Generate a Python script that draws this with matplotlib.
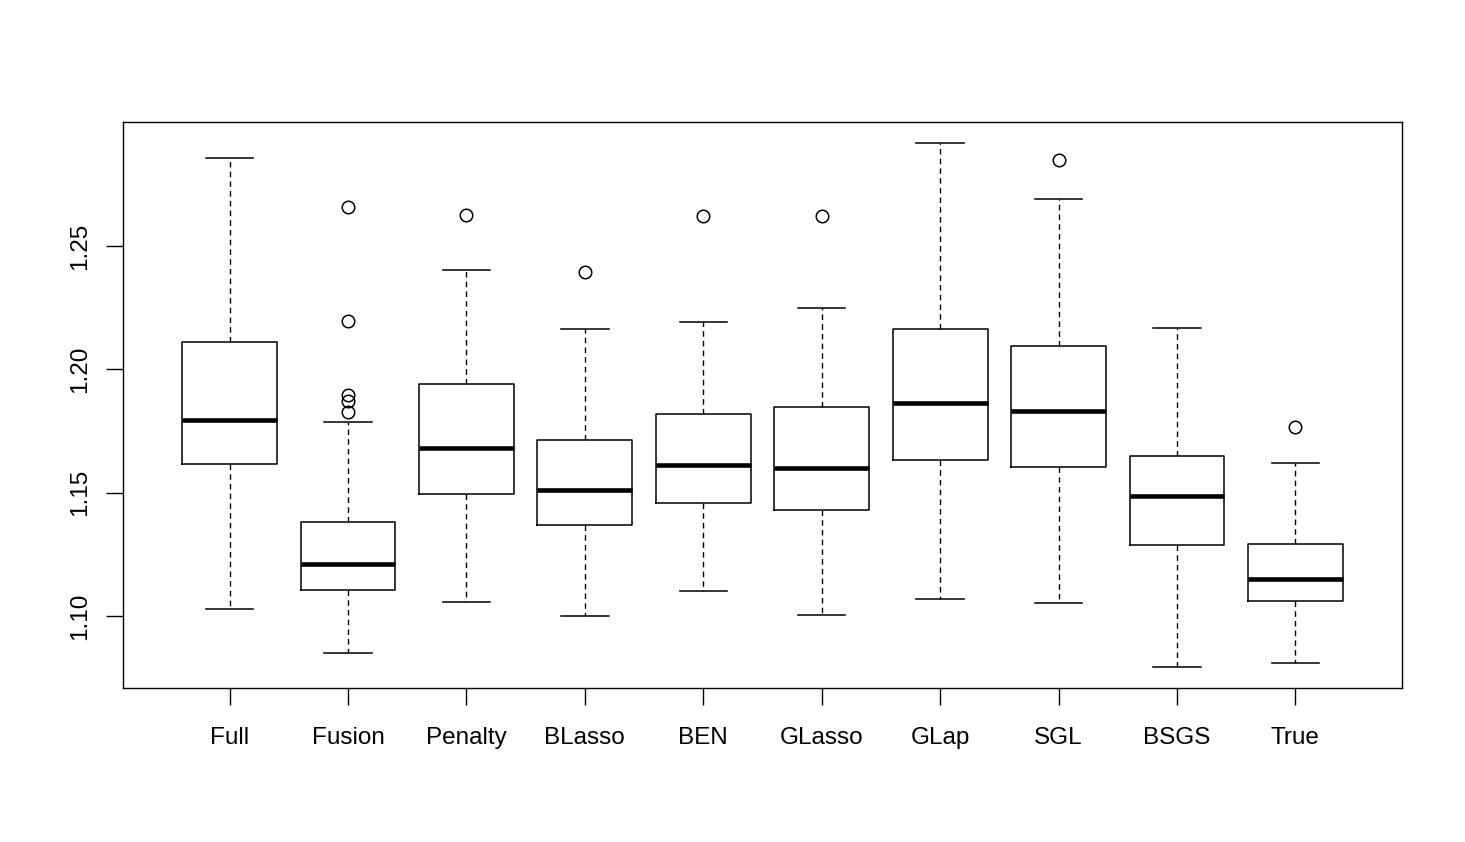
import matplotlib
matplotlib.use('Agg')
import matplotlib.pyplot as plt

plt.rcParams['font.family'] = ['Liberation Sans', 'DejaVu Sans']

methods = ['Full', 'Fusion', 'Penalty', 'BLasso', 'BEN', 'GLasso', 'GLap', 'SGL', 'BSGS', 'True']
whislo = [1.1028, 1.0850, 1.1057, 1.1000, 1.1101, 1.1004, 1.1069, 1.1053, 1.0793, 1.0809]
q1 = [1.1616, 1.1105, 1.1495, 1.1369, 1.1458, 1.1430, 1.1633, 1.1604, 1.1288, 1.1061]
med = [1.1795, 1.1211, 1.1681, 1.1511, 1.1612, 1.1600, 1.1864, 1.1831, 1.1487, 1.1150]
q3 = [1.2111, 1.1381, 1.1941, 1.1714, 1.1819, 1.1848, 1.2164, 1.2095, 1.1649, 1.1292]
whishi = [1.2857, 1.1787, 1.2403, 1.2164, 1.2192, 1.2249, 1.2918, 1.2691, 1.2168, 1.1620]
fliers = [
    [],
    [1.2659, 1.2196, 1.1896, 1.1872, 1.1827],
    [1.2626],
    [1.2395],
    [1.2622],
    [1.2622],
    [],
    [1.2849],
    [],
    [1.1766],
]

stats = []
for i in range(len(methods)):
    stats.append(dict(label=methods[i], whislo=whislo[i], q1=q1[i], med=med[i],
                      q3=q3[i], whishi=whishi[i], fliers=fliers[i]))

fig = plt.figure(figsize=(14.65, 8.42), dpi=100)
ax = fig.add_axes([123 / 1465, 1 - 688 / 842, (1402 - 123) / 1465, (688 - 122) / 842])

ax.bxp(stats, positions=range(1, 11), widths=0.8, patch_artist=False,
       boxprops=dict(color='black', linewidth=1.1),
       medianprops=dict(color='black', linewidth=3.3, solid_capstyle='butt'),
       whiskerprops=dict(color='black', linewidth=1.0, linestyle=(0, (4, 3))),
       capprops=dict(color='black', linewidth=1.1),
       capwidths=0.4,
       flierprops=dict(marker='o', markerfacecolor='none', markeredgecolor='black',
                       markersize=9, markeredgewidth=1.1))

ax.set_xlim(0.1, 10.9)
ax.set_ylim(1.0708, 1.3003)
ax.set_yticks([1.10, 1.15, 1.20, 1.25])
ax.set_yticklabels(['1.10', '1.15', '1.20', '1.25'], rotation=90, va='center')
ax.set_xticks(range(1, 11))
ax.set_xticklabels(methods)
ax.tick_params(axis='both', length=12, width=1.0, labelsize=17.5, direction='out')
ax.tick_params(axis='x', pad=16)
ax.tick_params(axis='y', pad=11)
for s in ax.spines.values():
    s.set_linewidth(1.0)

fig.savefig('out.png', dpi=100)
